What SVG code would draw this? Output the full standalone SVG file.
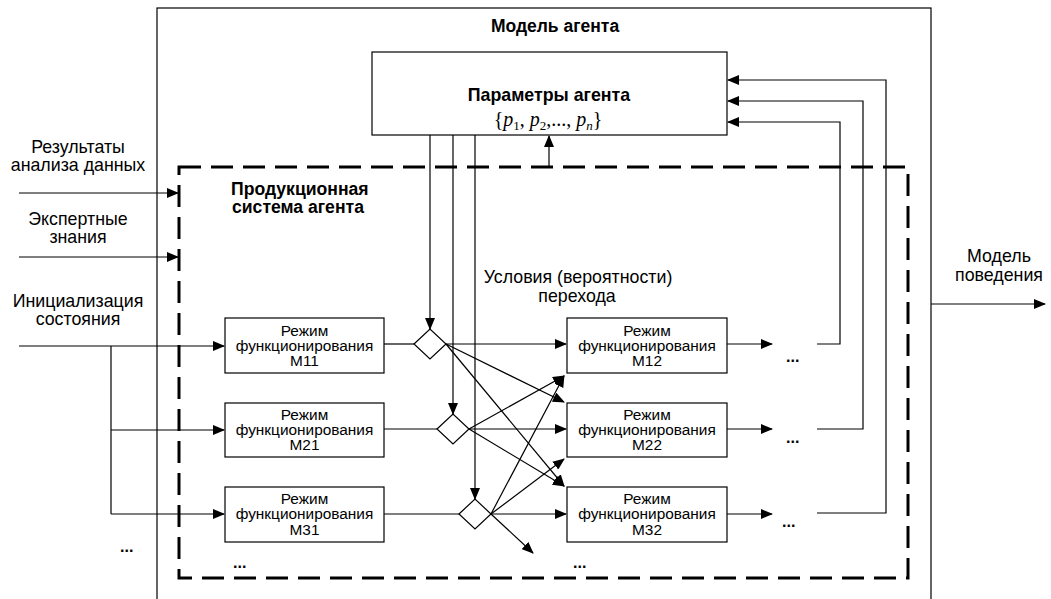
<svg xmlns="http://www.w3.org/2000/svg" width="1051" height="599" viewBox="0 0 1051 599">
<defs>
<marker id="ah" markerWidth="12" markerHeight="10" refX="11" refY="5" orient="auto" markerUnits="userSpaceOnUse">
<path d="M0,0 L12,5 L0,10 Z" fill="#000"/>
</marker>
<style>
.t{font-family:"Liberation Sans",Arial,sans-serif;fill:#000}
.lbl{font-size:17.8px;text-anchor:middle}
.b{font-weight:bold}
.box{fill:#fff;stroke:#000;stroke-width:1.2}
.mt{font-size:15.4px;text-anchor:middle}
.ln{fill:none;stroke:#000;stroke-width:1.2}
.ar{fill:none;stroke:#000;stroke-width:1.2;marker-end:url(#ah)}
.dots{font-family:"Liberation Sans",Arial,sans-serif;font-size:16px;font-weight:bold;fill:#000}
</style>
</defs>
<rect width="1051" height="599" fill="#fff"/>

<g id="agent-model">
<rect x="157" y="8" width="774" height="620" fill="none" stroke="#000" stroke-width="1.2"/>
<text class="t b" x="555" y="32" font-size="17.5" text-anchor="middle">Модель агента</text>
</g>

<g id="production-system">
<rect x="179" y="167" width="729" height="411" fill="none" stroke="#000" stroke-width="3" stroke-dasharray="22,10"/>
<text class="t b" x="231" y="195" font-size="17.6">Продукционная</text>
<text class="t b" x="232" y="213" font-size="17.6">система агента</text>
</g>

<g id="params">
<rect class="box" x="372" y="52" width="355" height="83" stroke-width="1.5"/>
<text class="t b" x="549" y="101" font-size="17.8" text-anchor="middle">Параметры агента</text>
<text x="548" y="126" font-family="'Liberation Serif','Times New Roman',serif" font-size="20" text-anchor="middle" fill="#000">{<tspan font-style="italic">p</tspan><tspan font-size="13" dy="4">1</tspan><tspan dy="-4">, </tspan><tspan font-style="italic">p</tspan><tspan font-size="13" dy="4">2</tspan><tspan dy="-4">,..., </tspan><tspan font-style="italic">p</tspan><tspan font-size="13" font-style="italic" dy="4">n</tspan><tspan dy="-4">}</tspan></text>
</g>

<g id="M11"><rect class="box" x="225" y="318" width="159" height="55"/>
<text class="t mt" x="304.5" y="336">Режим</text><text class="t mt" x="304.5" y="351">функционирования</text><text class="t mt" x="304.5" y="366">M11</text></g>
<g id="M21"><rect class="box" x="225" y="403" width="159" height="54"/>
<text class="t mt" x="304.5" y="420">Режим</text><text class="t mt" x="304.5" y="435">функционирования</text><text class="t mt" x="304.5" y="450">M21</text></g>
<g id="M31"><rect class="box" x="225" y="487" width="159" height="55"/>
<text class="t mt" x="304.5" y="504">Режим</text><text class="t mt" x="304.5" y="519">функционирования</text><text class="t mt" x="304.5" y="535">M31</text></g>

<g id="M12"><rect class="box" x="567" y="318" width="160" height="55"/>
<text class="t mt" x="647" y="336">Режим</text><text class="t mt" x="647" y="351">функционирования</text><text class="t mt" x="647" y="366">M12</text></g>
<g id="M22"><rect class="box" x="567" y="403" width="160" height="54"/>
<text class="t mt" x="647" y="420">Режим</text><text class="t mt" x="647" y="435">функционирования</text><text class="t mt" x="647" y="450">M22</text></g>
<g id="M32"><rect class="box" x="567" y="487" width="160" height="55"/>
<text class="t mt" x="647" y="504">Режим</text><text class="t mt" x="647" y="519">функционирования</text><text class="t mt" x="647" y="535">M32</text></g>

<g id="D1"><path class="box" d="M414,344 L430,329 L446,344 L430,359 Z"/></g>
<g id="D2"><path class="box" d="M437,429 L453,414 L469,429 L453,444 Z"/></g>
<g id="D3"><path class="box" d="M459,514 L475,499 L491,514 L475,529 Z"/></g>

<g id="labels">
<text class="t lbl" x="78" y="153">Результаты</text>
<text class="t lbl" x="78" y="171">анализа данных</text>
<text class="t lbl" x="78" y="225">Экспертные</text>
<text class="t lbl" x="78" y="243">знания</text>
<text class="t lbl" x="78" y="307">Инициализация</text>
<text class="t lbl" x="78" y="325">состояния</text>
<text class="t lbl" x="999" y="262">Модель</text>
<text class="t lbl" x="999" y="281">поведения</text>
<text class="t lbl" x="578" y="283">Условия (вероятности)</text>
<text class="t lbl" x="577" y="302">перехода</text>
<text class="dots" x="120" y="552">...</text>
<text class="dots" x="233" y="568">...</text>
<text class="dots" x="573" y="568">...</text>
<text class="dots" x="786" y="362">...</text>
<text class="dots" x="786" y="443">...</text>
<text class="dots" x="782" y="527">...</text>
</g>

<g id="connectors">
<path class="ar" d="M19,193 H178"/>
<path class="ar" d="M19,257 H178"/>
<path class="ar" d="M19,346 H224"/>
<path class="ln" d="M111,346 V514"/>
<path class="ar" d="M111,430 H224"/>
<path class="ar" d="M111,514 H224"/>
<path class="ar" d="M931,304 H1045"/>
<path class="ar" d="M549,167 V136"/>

<path class="ar" d="M430,135 V329"/>
<path class="ar" d="M453,135 V414"/>
<path class="ar" d="M475,135 V499"/>

<path class="ln" d="M384,344 H414"/>
<path class="ln" d="M384,429 H437"/>
<path class="ln" d="M384,514 H459"/>

<path class="ar" d="M446,344 H566"/>
<path class="ar" d="M446,344 L564,402"/>
<path class="ar" d="M446,344 L564,486"/>
<path class="ar" d="M469,429 H566"/>
<path class="ar" d="M469,429 L564,376"/>
<path class="ar" d="M469,429 L564,486"/>
<path class="ar" d="M491,514 H566"/>
<path class="ar" d="M491,514 L564,376"/>
<path class="ar" d="M491,514 L564,459"/>
<path class="ar" d="M491,514 L533,553"/>

<path class="ar" d="M727,344 H772"/>
<path class="ar" d="M727,429 H772"/>
<path class="ar" d="M727,514 H772"/>

<path class="ar" d="M817,344 H840 V122 H728"/>
<path class="ar" d="M817,429 H863 V101 H728"/>
<path class="ar" d="M817,513 H886 V80 H728"/>
</g>
</svg>
